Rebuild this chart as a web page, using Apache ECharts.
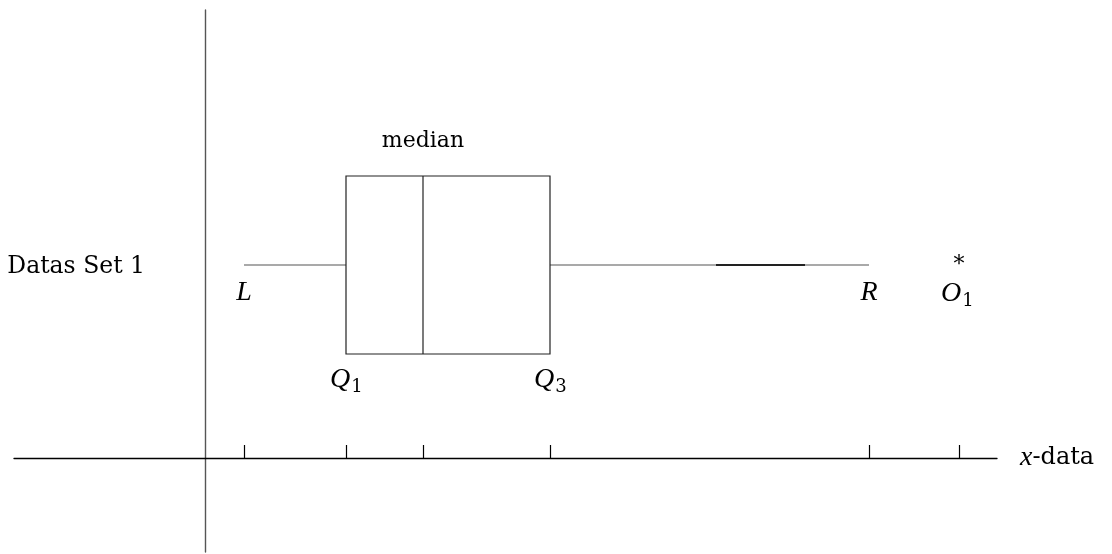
<!DOCTYPE html>
<html>
<head>
<meta charset="utf-8">
<script src="https://cdn.jsdelivr.net/npm/echarts@6/dist/echarts.min.js"></script>
<style>html,body{margin:0;background:#fff}#chart{width:1112px;height:554px}</style>
</head>
<body>
<div id="chart"></div>
<script>
// data (x in data units, y axis is only a layout band)
var setName = 'Datas Set 1';
var statNames = ['L', 'Q1', 'median', 'Q3', 'R'];
var statValues = [3.9, 14.1, 21.8, 34.5, 66.4];
var outlierNames = ['O1'];
var outlierValues = [75.4];
var tickValues = [3.9, 14.1, 21.8, 34.5, 66.4, 75.4];
var darkSegment = [51.1, 60.0];
var xRange = [-19.1, 79.2];
var yRange = [-9.4, 44.8];

// vertical layout of the box in y units
var boxLow = 10.4, boxHigh = 28.2, whiskerY = 19.3;

var romanFont = 'DejaVu Serif';
var mathFont = 'Liberation Serif';

function txt(text, x, y, size, opts) {
    opts = opts || {};
    return {
        type: 'text', x: x, y: y, silent: true,
        style: {
            text: text, fill: '#000',
            fontSize: size,
            fontFamily: opts.family || romanFont,
            fontStyle: opts.italic ? 'italic' : 'normal',
            align: opts.align || 'center',
            verticalAlign: 'middle'
        }
    };
}

// italic letter with optional subscript, centred on px
function mathLabel(name, px, py) {
    var main = name.charAt(0), sub = name.slice(1);
    if (!sub) return [txt(main, px, py, 28, {italic: true, family: mathFont})];
    return [
        txt(main, px - 6, py, 28, {italic: true, family: mathFont}),
        txt(sub, px + 11, py + 7, 18)
    ];
}

var chart = echarts.init(document.getElementById('chart'));
chart.setOption({
    animation: false,
    grid: {left: 14, right: 115, top: 10, bottom: 2, outerBoundsMode: 'none'},
    xAxis: {
        type: 'value', min: xRange[0], max: xRange[1],
        axisLine: {onZero: true, lineStyle: {color: '#000', width: 1.3}},
        axisTick: {show: true, inside: true, length: 13, customValues: tickValues,
            lineStyle: {color: '#000', width: 1.2}},
        axisLabel: {show: false},
        splitLine: {show: false},
        name: '{i|x}{r|-data}', nameLocation: 'end', nameGap: 23,
        nameTextStyle: {
            rich: {
                i: {fontFamily: mathFont, fontStyle: 'italic', fontSize: 28, color: '#000'},
                r: {fontFamily: romanFont, fontSize: 24, color: '#000'}
            }
        }
    },
    yAxis: {
        type: 'value', min: yRange[0], max: yRange[1],
        axisLine: {show: true, onZero: true, lineStyle: {color: '#555', width: 1.4}},
        axisTick: {show: false},
        axisLabel: {show: false},
        splitLine: {show: false}
    },
    series: [
        {
            type: 'custom', silent: true, clip: false,
            data: [statValues],
            renderItem: function (params, api) {
                var v = [0, 1, 2, 3, 4].map(function (i) { return api.value(i); });
                var c = function (x, y) { return api.coord([x, y]); };
                var wl = c(v[0], whiskerY), q1w = c(v[1], whiskerY);
                var q3w = c(v[3], whiskerY), wr = c(v[4], whiskerY);
                var lo = c(v[1], boxLow), hi = c(v[3], boxHigh);
                var mLo = c(v[2], boxLow), mHi = c(v[2], boxHigh);
                var line = {stroke: '#555', lineWidth: 1.2};
                var box = {stroke: '#222', lineWidth: 1.2, fill: null};
                var kids = [
                    {type: 'line', shape: {x1: wl[0], y1: wl[1], x2: q1w[0], y2: q1w[1]}, style: line},
                    {type: 'line', shape: {x1: q3w[0], y1: q3w[1], x2: wr[0], y2: wr[1]}, style: line},
                    {type: 'rect', shape: {x: lo[0], y: hi[1], width: hi[0] - lo[0], height: lo[1] - hi[1]}, style: box},
                    {type: 'line', shape: {x1: mLo[0], y1: mLo[1], x2: mHi[0], y2: mHi[1]}, style: box}
                ];
                var axisX = c(0, whiskerY)[0];
                kids.push(txt(setName, axisX - 60, wl[1] + 2, 23.5, {align: 'right'}));
                kids = kids.concat(mathLabel(statNames[0], wl[0], wl[1] + 28));
                kids = kids.concat(mathLabel(statNames[4], wr[0], wr[1] + 28));
                kids = kids.concat(mathLabel(statNames[1], lo[0], lo[1] + 26));
                kids = kids.concat(mathLabel(statNames[3], hi[0], lo[1] + 26));
                kids.push(txt(statNames[2], mHi[0], mHi[1] - 35, 22));
                return {type: 'group', children: kids};
            }
        },
        {
            type: 'custom', silent: true, clip: false,
            data: [darkSegment],
            renderItem: function (params, api) {
                var a = api.coord([api.value(0), whiskerY]);
                var b = api.coord([api.value(1), whiskerY]);
                return {type: 'line', shape: {x1: a[0], y1: a[1], x2: b[0], y2: b[1]},
                    style: {stroke: '#222', lineWidth: 1.8}};
            }
        },
        {
            type: 'custom', silent: true, clip: false,
            data: outlierValues.map(function (v, i) { return [v, i]; }),
            renderItem: function (params, api) {
                var p = api.coord([api.value(0), whiskerY]);
                var kids = [txt('*', p[0], p[1], 22)];
                kids = kids.concat(mathLabel(outlierNames[params.dataIndex], p[0] - 2, p[1] + 29));
                return {type: 'group', children: kids};
            }
        }
    ]
});
</script>
</body>
</html>
